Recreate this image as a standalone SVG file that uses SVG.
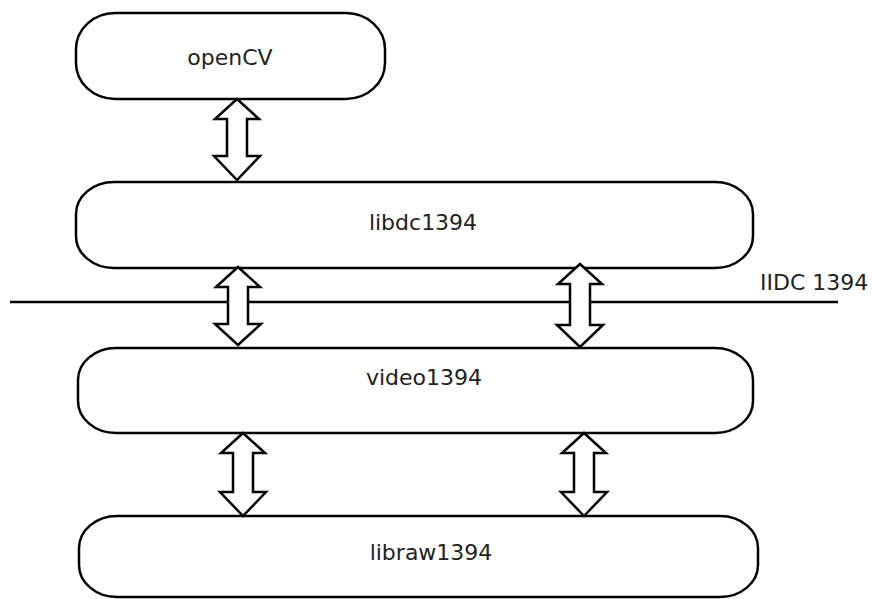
<svg xmlns="http://www.w3.org/2000/svg" width="872" height="599" viewBox="0 0 872 599">
<defs>
<style>
.box{fill:#fff;stroke:#000;stroke-width:2.5}
.arr{fill:#fff;stroke:#000;stroke-width:2.5;stroke-linejoin:miter}
.lbl{font-family:"DejaVu Sans",sans-serif;font-size:22px;fill:#222;text-anchor:middle}
</style>
</defs>
<rect width="872" height="599" fill="#fff"/>
<g id="iidc">
<line x1="10" y1="302" x2="838" y2="302" stroke="#000" stroke-width="2.5"/>
<text x="760" y="290" class="lbl" style="text-anchor:start">IIDC 1394</text>
</g>
<g id="opencv">
<rect class="box" x="76" y="13" width="309" height="86" rx="39" ry="36"/>
<text class="lbl" x="230" y="65">openCV</text>
</g>
<g id="libdc1394">
<rect class="box" x="76" y="182" width="677" height="86" rx="38" ry="32"/>
<text class="lbl" x="423" y="230">libdc1394</text>
</g>
<g id="video1394">
<rect class="box" x="78" y="348" width="675" height="85" rx="38" ry="32"/>
<text class="lbl" x="424" y="385">video1394</text>
</g>
<g id="libraw1394">
<rect class="box" x="79" y="516" width="679" height="81" rx="38" ry="32"/>
<text class="lbl" x="431" y="560">libraw1394</text>
</g>
<g id="connectors">
<path class="arr" d="M237,99 L259,119 L247,119 L247,156 L260,156 L237,180 L214,156 L227,156 L227,119 L215,119 Z"/>
<path class="arr" d="M238,267 L260,287 L248,287 L248,324 L261,324 L238,345 L215,324 L228,324 L228,287 L216,287 Z"/>
<path class="arr" d="M580,264 L602,284 L590,284 L590,325 L603,325 L580,347 L557,325 L570,325 L570,284 L558,284 Z"/>
<path class="arr" d="M243,433 L265,453 L253,453 L253,492 L266,492 L243,516 L220,492 L233,492 L233,453 L221,453 Z"/>
<path class="arr" d="M584,433 L606,453 L594,453 L594,492 L607,492 L584,516 L561,492 L574,492 L574,453 L562,453 Z"/>
</g>
</svg>
